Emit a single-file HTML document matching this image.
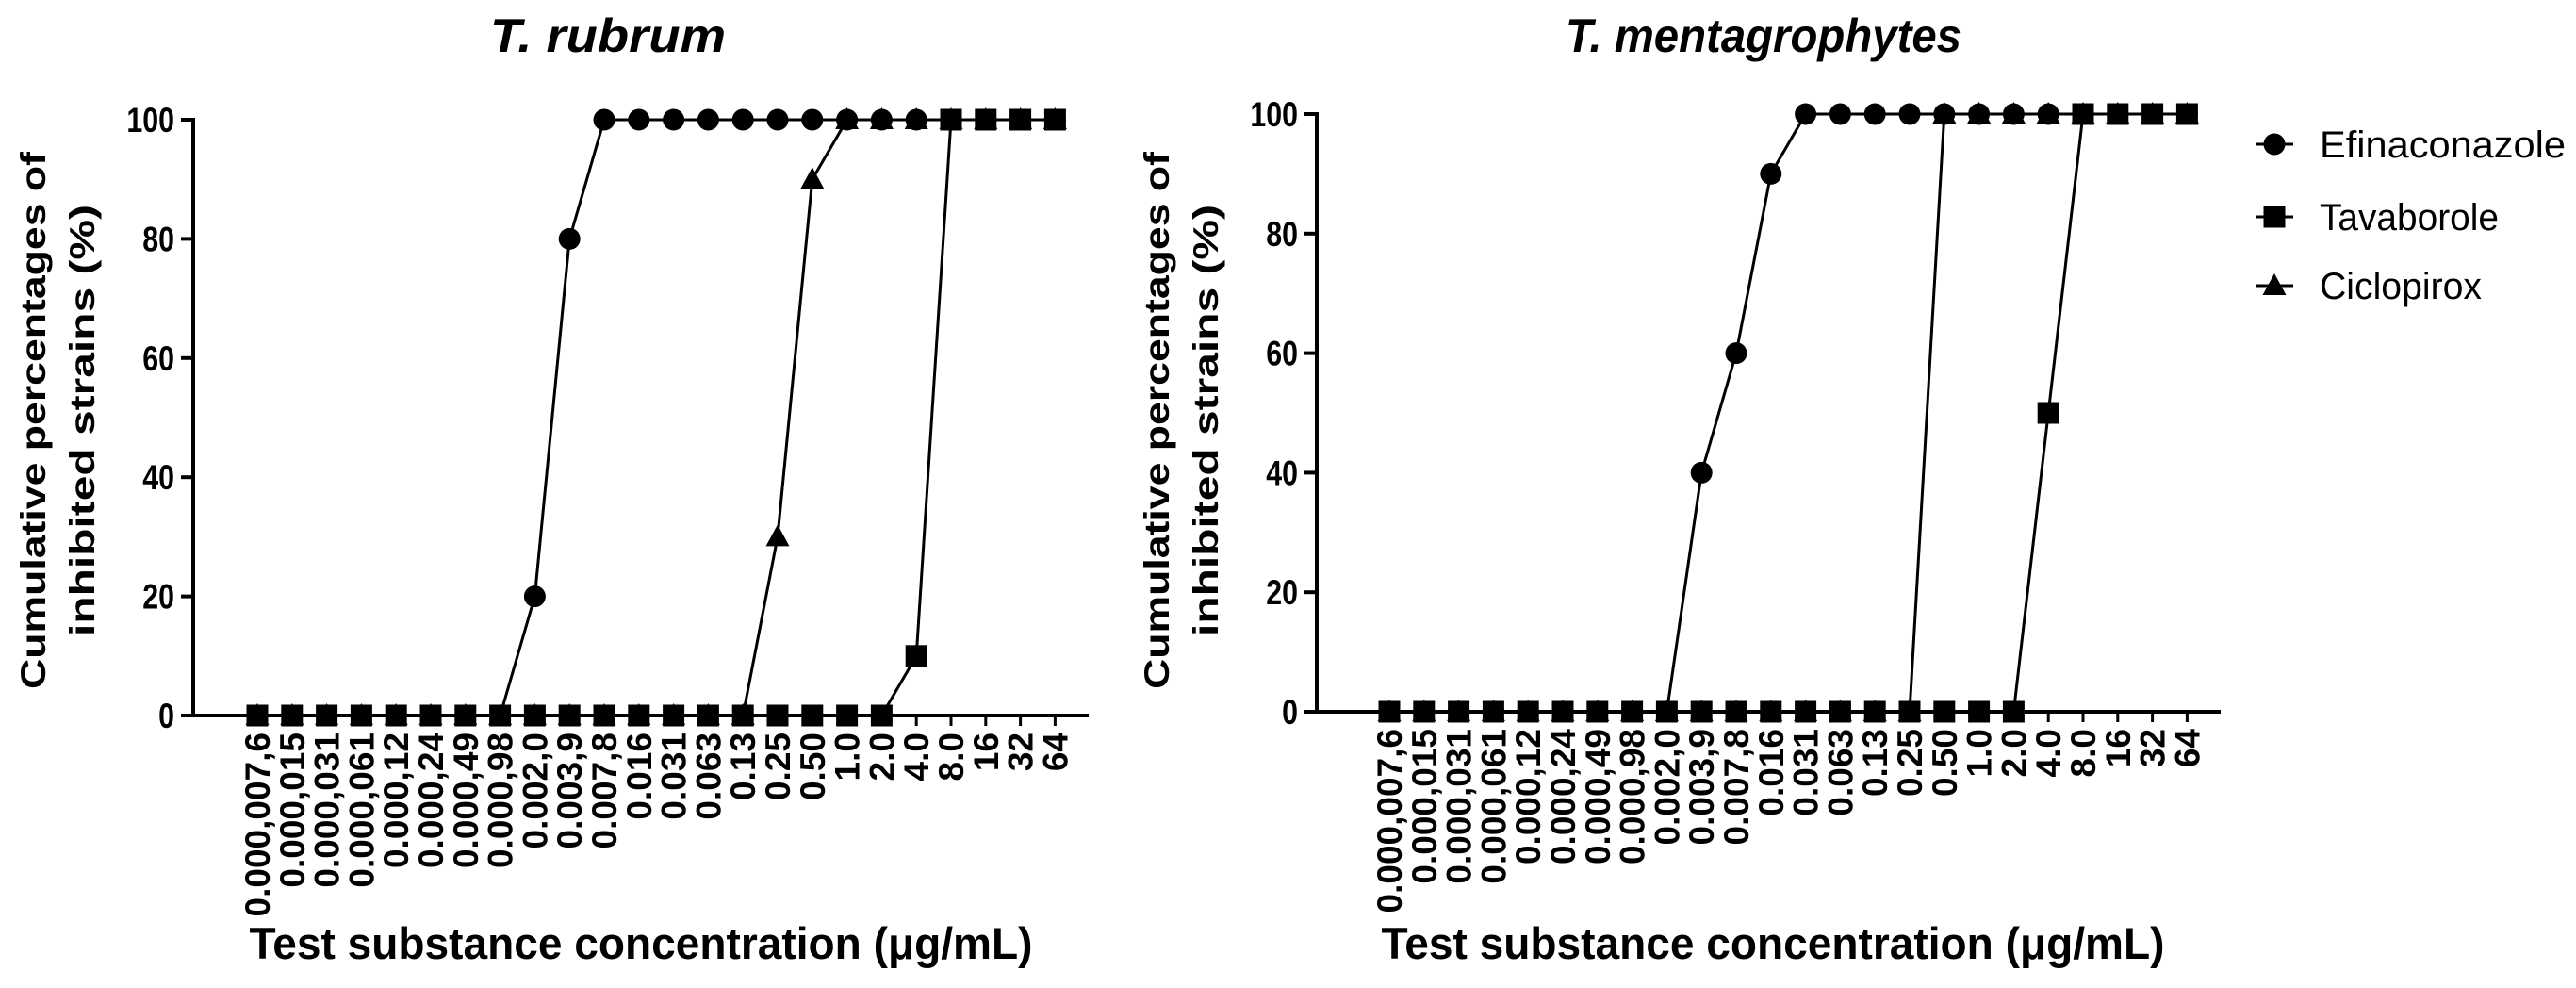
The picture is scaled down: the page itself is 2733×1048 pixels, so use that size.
<!DOCTYPE html>
<html><head><meta charset="utf-8"><style>
html,body{margin:0;padding:0;background:#fff}
svg{display:block}
</style></head><body>
<svg id="fig" width="2733" height="1048" viewBox="0 0 2733 1048" xmlns="http://www.w3.org/2000/svg"></svg>
<script>
const categories = ["0.000,007,6","0.000,015","0.000,031","0.000,061","0.000,12","0.000,24","0.000,49","0.000,98","0.002,0","0.003,9","0.007,8","0.016","0.031","0.063","0.13","0.25","0.50","1.0","2.0","4.0","8.0","16","32","64"];
const yTicks = [0,20,40,60,80,100];
const rubrumEfin = [0,0,0,0,0,0,0,0,20,80,100,100,100,100,100,100,100,100,100,100,100,100,100,100];
const rubrumTava = [0,0,0,0,0,0,0,0,0,0,0,0,0,0,0,0,0,0,0,10,100,100,100,100];
const rubrumCicl = [0,0,0,0,0,0,0,0,0,0,0,0,0,0,0,30,90,100,100,100,100,100,100,100];
const mentaEfin = [0,0,0,0,0,0,0,0,0,40,60,90,100,100,100,100,100,100,100,100,100,100,100,100];
const mentaTava = [0,0,0,0,0,0,0,0,0,0,0,0,0,0,0,0,0,0,0,50,100,100,100,100];
const mentaCicl = [0,0,0,0,0,0,0,0,0,0,0,0,0,0,0,0,100,100,100,100,100,100,100,100];
const seriesNames = ["Efinaconazole","Tavaborole","Ciclopirox"];

const NS="http://www.w3.org/2000/svg";
const svg=document.getElementById('fig');
function mk(tag,attrs,parent){const e=document.createElementNS(NS,tag);for(const k in attrs)e.setAttribute(k,attrs[k]);(parent||svg).appendChild(e);return e;}
const FONT='"Liberation Sans", Arial, sans-serif';

function marker(g,kind,x,y){
  let m;
  if(kind==='circle'){m=mk('circle',{cx:x,cy:y,r:11.5,fill:'#000'},g);}
  else if(kind==='square'){m=mk('rect',{x:x-11.5,y:y-11.5,width:23,height:23,fill:'#000'},g);}
  else {m=mk('polygon',{points:`${x},${y-13} ${x+12.5},${y+10} ${x-12.5},${y+10}`,fill:'#000'},g);}
  return m;
}

function panel(cfg){
  const g=mk('g',{});
  
  
  const xs=i=>cfg.x0+i*cfg.step;
  const ys=v=>cfg.yBottom-(v/100)*(cfg.yBottom-cfg.yTop);
  const t=mk('text',{x:cfg.titleX,y:55,'text-anchor':'middle','font-family':FONT,'font-weight':'bold','font-style':'italic','font-size':50,textLength:cfg.titleW,lengthAdjust:'spacingAndGlyphs'},g);
  t.textContent=cfg.title;
  
  
  const ya=mk('line',{x1:cfg.axisX,y1:cfg.yTop-2,x2:cfg.axisX,y2:cfg.yBottom+2,stroke:'#000','stroke-width':4},g);
  
  
  const xa=mk('line',{x1:cfg.axisX-2,y1:cfg.yBottom,x2:cfg.xEnd,y2:cfg.yBottom,stroke:'#000','stroke-width':4},g);
  
  
  yTicks.forEach(v=>{
    mk('line',{x1:cfg.axisX-13,y1:ys(v),x2:cfg.axisX,y2:ys(v),stroke:'#000','stroke-width':4},g);
    const l=mk('text',{x:cfg.axisX-20,y:ys(v)+13,'text-anchor':'end','font-family':FONT,'font-weight':'bold','font-size':37,transform:`translate(${cfg.axisX-20},0) scale(0.82,1) translate(${-(cfg.axisX-20)},0)`},g);
    l.textContent=v;
    
    
  });
  categories.forEach((c,i)=>{
    const x=xs(i);
    mk('line',{x1:x,y1:cfg.yBottom,x2:x,y2:cfg.yBottom+11,stroke:'#000','stroke-width':3},g);
    const l=mk('text',{x:0,y:0,'text-anchor':'end','font-family':FONT,'font-weight':'bold','font-size':37,transform:`translate(${x+13},${cfg.yBottom+18}) rotate(-90)`},g);
    l.textContent=c;
    
    
  });
  const yt=mk('text',{'font-family':FONT,'font-weight':'bold','font-size':37,'text-anchor':'middle',transform:`translate(${cfg.axisX-157},446) rotate(-90)`},g);
  const s1=mk('tspan',{x:0,y:0,textLength:570,lengthAdjust:'spacingAndGlyphs'},yt);s1.textContent='Cumulative percentages of';
  const s2=mk('tspan',{x:0,y:52,textLength:458,lengthAdjust:'spacingAndGlyphs'},yt);s2.textContent='inhibited strains (%)';
  
  
  const xt=mk('text',{x:cfg.xTitleX,y:1017,'text-anchor':'middle','font-family':FONT,'font-weight':'bold','font-size':47,textLength:831,lengthAdjust:'spacingAndGlyphs'},g);
  xt.textContent='Test substance concentration (\u03bcg/mL)';
  
  
  const ser=[[cfg.efin,'circle','efinaconazole'],[cfg.cicl,'triangle','ciclopirox'],[cfg.tava,'square','tavaborole']];
  ser.forEach(([vals,kind,nm])=>{
    const pts=vals.map((v,i)=>xs(i)+','+ys(v)).join(' ');
    const pl=mk('polyline',{points:pts,fill:'none',stroke:'#000','stroke-width':3},g);
    
    
  });
  ser.forEach(([vals,kind,nm])=>{
    vals.forEach((v,i)=>{
      const m=marker(g,kind,xs(i),ys(v));
      
      
    });
  });
}

panel({name:'t-rubrum-chart',title:'T. rubrum',titleX:645,titleW:250,axisX:205,xEnd:1155,x0:273,step:36.8,yTop:127,yBottom:759,xTitleX:680,efin:rubrumEfin,tava:rubrumTava,cicl:rubrumCicl});
panel({name:'t-mentagrophytes-chart',title:'T. mentagrophytes',titleX:1871,titleW:420,axisX:1397,xEnd:2356,x0:1474,step:36.8,yTop:121,yBottom:755,xTitleX:1881,efin:mentaEfin,tava:mentaTava,cicl:mentaCicl});

const lg=mk('g',{});


const kinds=['circle','square','triangle'];
const ly=[153,230,303];
seriesNames.forEach((n,i)=>{
  const e=mk('g',{},lg);
  
  
  mk('line',{x1:2393,y1:ly[i],x2:2433,y2:ly[i],stroke:'#000','stroke-width':3},e);
  marker(e,kinds[i],2413,ly[i]);
  const t=mk('text',{x:2461,y:ly[i]+14,'font-family':FONT,'font-size':40,textLength:[261,190,172][i],lengthAdjust:'spacingAndGlyphs'},e);
  t.textContent=n;
});
</script>
</body></html>
